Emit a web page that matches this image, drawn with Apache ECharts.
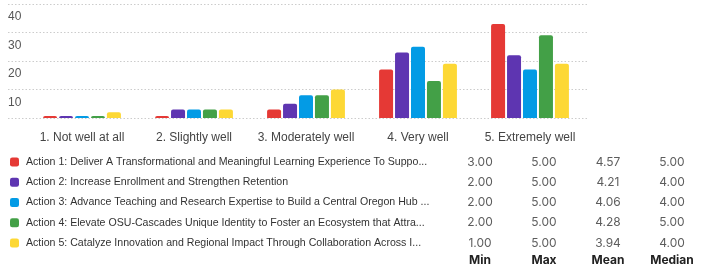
<!DOCTYPE html>
<html><head><meta charset="utf-8">
<script src="https://cdn.jsdelivr.net/npm/echarts@6/dist/echarts.min.js"></script>
<style>html,body{margin:0;padding:0;background:#fff}#c{width:709px;height:273px}</style>
</head><body><div id="c"></div>
<script>
const categories = ['1. Not well at all', '2. Slightly well', '3. Moderately well', '4. Very well', '5. Extremely well'];
const seriesNames = [
  'Action 1: Deliver A Transformational and Meaningful Learning Experience To Suppo...',
  'Action 2: Increase Enrollment and Strengthen Retention',
  'Action 3: Advance Teaching and Research Expertise to Build a Central Oregon Hub ...',
  'Action 4: Elevate OSU-Cascades Unique Identity to Foster an Ecosystem that Attra...',
  'Action 5: Catalyze Innovation and Regional Impact Through Collaboration Across I...'
];
const action1 = [0, 0, 3, 17, 33];
const action2 = [0, 3, 5, 23, 22];
const action3 = [0, 3, 8, 25, 17];
const action4 = [0, 3, 8, 13, 29];
const action5 = [2, 3, 10, 19, 19];
const yTicks = [0, 10, 20, 30, 40];
const statHeaders = ['Min', 'Max', 'Mean', 'Median'];
const statMin = [3.00, 2.00, 2.00, 2.00, 1.00];
const statMax = [5.00, 5.00, 5.00, 5.00, 5.00];
const statMean = [4.57, 4.21, 4.06, 4.28, 3.94];
const statMedian = [5.00, 4.00, 4.00, 5.00, 4.00];

const colors = ['#E53935', '#5E35B1', '#039BE5', '#43A047', '#FDD835'];
const allSeries = [action1, action2, action3, action4, action5];
const statCols = [statMin, statMax, statMean, statMedian];
const chartFont = '"Liberation Sans", Arial, sans-serif';
const tableFont = 'Inter, "Noto Sans", sans-serif';

const tableData = [];
statCols.forEach((col, ci) => col.forEach((v, ri) => tableData.push([ci, ri, v])));

const chart = echarts.init(document.getElementById('c'), null, {renderer: 'canvas'});
chart.setOption({
  animation: false,
  color: colors,
  grid: [
    {left: 26, right: 123, top: 4, bottom: 155},
    {left: 8, right: 121, top: 4, bottom: 155},
    {left: 448, right: 5, top: 152, bottom: 20}
  ],
  legend: {
    orient: 'vertical', left: 10, top: 155, padding: 0,
    itemWidth: 9, itemHeight: 9, itemGap: 6.25,
    icon: 'roundRect',
    selectedMode: false,
    data: seriesNames,
    textStyle: {fontFamily: chartFont, fontSize: 10.6, color: '#333', lineHeight: 14, padding: [0, 0, 0, 2]}
  },
  xAxis: [
    {type: 'category', gridIndex: 0, data: categories,
     axisLine: {show: false}, axisTick: {show: false},
     axisLabel: {interval: 0, fontFamily: chartFont, fontSize: 12, color: '#444', margin: 14}},
    {type: 'value', gridIndex: 1, show: false},
    {type: 'category', gridIndex: 2, data: statHeaders, position: 'bottom',
     axisLine: {show: false}, axisTick: {show: false},
     axisLabel: {fontFamily: tableFont, fontSize: 12, fontWeight: 'bold', color: '#222', margin: 1}}
  ],
  yAxis: [
    {type: 'value', gridIndex: 0, min: 0, max: 40, interval: 10, show: false},
    {type: 'value', gridIndex: 1, min: 0, max: 40, interval: 10,
     axisLine: {show: false}, axisTick: {show: false},
     splitLine: {show: true, lineStyle: {color: '#cccccc', type: [1.5, 2], width: 1}},
     axisLabel: {inside: true, margin: 0, align: 'left', verticalAlign: 'top', padding: [7, 0, 0, 0],
       showMinLabel: false, fontFamily: chartFont, fontSize: 12, color: '#555',
       formatter: v => (yTicks.indexOf(v) >= 0 ? String(v) : '')}},
    {type: 'category', gridIndex: 2, data: seriesNames.map((_, i) => i), inverse: true, show: false}
  ],
  series: allSeries.map((d, i) => ({
    name: seriesNames[i], type: 'bar', xAxisIndex: 0, yAxisIndex: 0,
    data: d, barWidth: 14, barGap: '14%', barMinHeight: 2,
    itemStyle: {color: colors[i], borderRadius: [2, 2, 0, 0]}
  })).concat([{
    type: 'scatter', xAxisIndex: 2, yAxisIndex: 2, symbolSize: 0,
    data: tableData, silent: true,
    label: {show: true, position: 'inside', fontFamily: tableFont, fontSize: 12, color: '#333',
      formatter: p => p.data[2].toFixed(2)}
  }])
});
</script></body></html>
